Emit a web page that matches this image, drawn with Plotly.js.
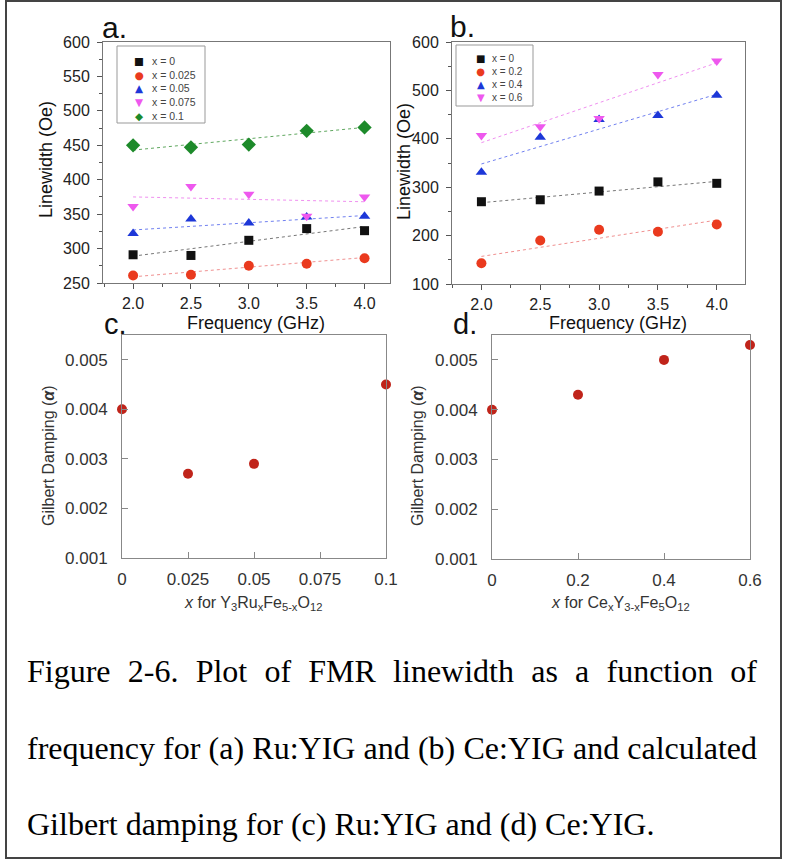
<!DOCTYPE html>
<html>
<head>
<meta charset="utf-8">
<script src="https://cdn.plot.ly/plotly-3.0.1.min.js"></script>
<style>
  html, body { margin:0; padding:0; background:#fff; }
  #wrap { position:relative; width:785px; height:861px; overflow:hidden; }
  #plot { position:absolute; left:0; top:0; width:785px; height:861px; }
  #frame { position:absolute; left:5px; top:0px; width:777px; height:859px; border:2px solid #444; box-sizing:border-box; pointer-events:none; }
  .cap { position:absolute; left:27px; width:730px; font-family:"Liberation Serif","Times New Roman",serif; font-size:32px; line-height:40px; color:#000; }
  .just { text-align:justify; text-align-last:justify; }
</style>
</head>
<body>
<div id="wrap">
  <div id="plot"></div>
  <div id="frame"></div>
  <div class="cap just" style="top:651px;">Figure 2-6. Plot of FMR linewidth as a function of</div>
  <div class="cap just" style="top:728px;">frequency for (a) Ru:YIG and (b) Ce:YIG and calculated</div>
  <div class="cap" style="top:804px;">Gilbert damping for (c) Ru:YIG and (d) Ce:YIG.</div>
</div>
<script>
// ---------- data ----------
const freq = [2.0, 2.5, 3.0, 3.5, 4.0];
const fitFreq = [2.0, 4.0];

// Panel a: Ru:YIG linewidth (Oe)
const aNames = ["x = 0", "x = 0.025", "x = 0.05", "x = 0.075", "x = 0.1"];
const a_x0    = [291, 290, 312, 329, 326];
const a_x025  = [261, 262, 275, 278, 286];
const a_x05   = [322, 343, 337, 346, 347];
const a_x075  = [361, 390, 379, 347, 375];
const a_x1    = [450, 447, 451, 471, 476];
const aFit_x0   = [289, 332];
const aFit_x025 = [259, 287];
const aFit_x05  = [327, 348];
const aFit_x075 = [375, 368];
const aFit_x1   = [443, 476];

// Panel b: Ce:YIG linewidth (Oe)
const bNames = ["x = 0", "x = 0.2", "x = 0.4", "x = 0.6"];
const b_x0 = [270, 274, 292, 311, 308];
const b_x2 = [143, 190, 212, 208, 223];
const b_x4 = [331, 403, 440, 448, 490];
const b_x6 = [407, 425, 442, 533, 561];
const bFit_x0 = [268, 312];
const bFit_x2 = [157, 232];
const bFit_x4 = [348, 492];
const bFit_x6 = [392, 557];

// Panel c: Gilbert damping, Ru:YIG
const ruX = [0, 0.025, 0.05, 0.1];
const ruAlpha = [0.0040, 0.0027, 0.0029, 0.0045];
const ruTicks = [0, 0.025, 0.05, 0.075, 0.1];
const ruTickText = ["0", "0.025", "0.05", "0.075", "0.1"];

// Panel d: Gilbert damping, Ce:YIG
const ceX = [0, 0.2, 0.4, 0.6];
const ceAlpha = [0.0040, 0.0043, 0.0050, 0.0053];
const ceTicks = [0, 0.2, 0.4, 0.6];
const ceTickText = ["0", "0.2", "0.4", "0.6"];

const alphaTicks = [0.001, 0.002, 0.003, 0.004, 0.005];

// ---------- styles ----------
const W = 785, H = 861;
const fx = p => p / W;
const fy = p => 1 - p / H;
const SANS = '"Liberation Sans", Arial, sans-serif';

const cBlack = '#111111', cRed = '#ea3a1e', cBlue = '#1d37d8', cPink = '#ee58ee', cGreen = '#1d8a2a';
const fBlack = '#777777', fRed = '#f09090', fBlue = '#7080f0', fPink = '#f090f0', fGreen = '#60a860';
const dampColor = '#c0241a';

function pts(x, y, name, sym, col, size, xa, ya) {
  return { x: x, y: y, name: name, type: 'scatter', mode: 'markers', xaxis: xa, yaxis: ya,
    marker: { symbol: sym, color: col, size: size, line: { width: 0 } }, showlegend: false, cliponaxis: false };
}
function fit(y, col, xa, ya) {
  return { x: fitFreq, y: y, type: 'scatter', mode: 'lines', xaxis: xa, yaxis: ya, hoverinfo: 'skip',
    line: { color: col, width: 1, dash: 'dot' }, showlegend: false };
}

const traces = [
  fit(aFit_x0, fBlack, 'x', 'y'), fit(aFit_x025, fRed, 'x', 'y'), fit(aFit_x05, fBlue, 'x', 'y'),
  fit(aFit_x075, fPink, 'x', 'y'), fit(aFit_x1, fGreen, 'x', 'y'),
  pts(freq, a_x0, aNames[0], 'square', cBlack, 9, 'x', 'y'),
  pts(freq, a_x025, aNames[1], 'circle', cRed, 10, 'x', 'y'),
  pts(freq, a_x05, aNames[2], 'triangle-up', cBlue, 10, 'x', 'y'),
  pts(freq, a_x075, aNames[3], 'triangle-down', cPink, 10, 'x', 'y'),
  pts(freq, a_x1, aNames[4], 'diamond', cGreen, 11, 'x', 'y'),

  fit(bFit_x0, fBlack, 'x2', 'y2'), fit(bFit_x2, fRed, 'x2', 'y2'),
  fit(bFit_x4, fBlue, 'x2', 'y2'), fit(bFit_x6, fPink, 'x2', 'y2'),
  pts(freq, b_x0, bNames[0], 'square', cBlack, 9, 'x2', 'y2'),
  pts(freq, b_x2, bNames[1], 'circle', cRed, 10, 'x2', 'y2'),
  pts(freq, b_x4, bNames[2], 'triangle-up', cBlue, 10, 'x2', 'y2'),
  pts(freq, b_x6, bNames[3], 'triangle-down', cPink, 10, 'x2', 'y2'),

  pts(ruX, ruAlpha, 'Ru:YIG', 'circle', dampColor, 10, 'x3', 'y3'),
  pts(ceX, ceAlpha, 'Ce:YIG', 'circle', dampColor, 10, 'x4', 'y4')
];

const tickFontAB = { family: SANS, size: 16, color: '#222' };
const tickFontCD = { family: SANS, size: 17, color: '#333' };

function freqAxis(dom, anchor, range) {
  return { domain: dom, anchor: anchor, range: range, dtick: 0.5, tick0: 0, tickformat: '.1f',
    ticks: 'outside', ticklen: 5, tickcolor: '#555', tickwidth: 1,
    minor: { ticks: 'outside', dtick: 0.25, ticklen: 3, tickcolor: '#555' },
    showline: true, linecolor: '#777', linewidth: 1, mirror: true,
    showgrid: false, zeroline: false, tickfont: tickFontAB, ticklabelstandoff: 1 };
}
function lwAxis(dom, anchor, range, dt) {
  return { domain: dom, anchor: anchor, range: range, dtick: dt, tick0: 0,
    ticks: 'outside', ticklen: 5, tickcolor: '#555', tickwidth: 1,
    minor: { ticks: 'outside', dtick: dt / 2, ticklen: 3, tickcolor: '#555' },
    showline: true, linecolor: '#777', linewidth: 1, mirror: true,
    showgrid: false, zeroline: false, tickfont: tickFontAB, ticklabelstandoff: 4 };
}
function xDamp(dom, anchor, range, tv, tt) {
  return { domain: dom, anchor: anchor, range: range, tickvals: tv, ticktext: tt,
    ticks: 'inside', ticklen: 6, tickcolor: '#888', tickwidth: 1,
    showline: true, linecolor: '#888', linewidth: 1, mirror: true,
    showgrid: false, zeroline: false, tickfont: tickFontCD, ticklabelstandoff: 6 };
}
function yDamp(dom, anchor) {
  return { domain: dom, anchor: anchor, range: [0.001, 0.0055], tickvals: alphaTicks, tickformat: '.3f',
    ticks: 'inside', ticklen: 6, tickcolor: '#888', tickwidth: 1,
    showline: true, linecolor: '#888', linewidth: 1, mirror: true,
    showgrid: false, zeroline: false, tickfont: tickFontCD, ticklabelstandoff: 10 };
}

function ann(text, x, y, size, opts) {
  return Object.assign({ text: text, x: fx(x), y: fy(y), xref: 'paper', yref: 'paper', showarrow: false,
    xanchor: 'center', yanchor: 'middle', font: { family: SANS, size: size, color: '#111' } }, opts || {});
}

// legend built as a framed box: symbol column + label column
function legendParts(names, colors, syms, box, symX, textX, top, fsize) {
  const shape = { type: 'rect', xref: 'paper', yref: 'paper',
    x0: fx(box[0]), x1: fx(box[1]), y0: fy(box[3]), y1: fy(box[2]),
    line: { color: '#999', width: 1 }, fillcolor: 'rgba(0,0,0,0)' };
  const labels = ann(names.join('<br>'), textX, top, fsize,
    { xanchor: 'left', yanchor: 'top', align: 'left', font: { family: SANS, size: fsize, color: '#444' } });
  const symbols = ann(syms.map((s, i) => '<span style="color:' + colors[i] + '">' + s + '</span>').join('<br>'),
    symX, top, fsize, { xanchor: 'center', yanchor: 'top', align: 'center',
      font: { family: '"DejaVu Sans", sans-serif', size: fsize, color: '#111' } });
  return { shape: shape, anns: [labels, symbols] };
}
const legA = legendParts(aNames, [cBlack, cRed, cBlue, cPink, cGreen], ['■', '●', '▲', '▼', '◆'],
  [117, 205, 46, 123], 139, 150, 53, 10.5);
const legB = legendParts(bNames, [cBlack, cRed, cBlue, cPink], ['■', '●', '▲', '▼'],
  [456, 533, 45, 106], 480, 490, 51, 10);

const annotations = [
  ann('a.', 100, 28, 30, { xanchor: 'left' }),
  ann('b.', 448, 27, 30, { xanchor: 'left' }),
  ann('c.', 102, 324, 29, { xanchor: 'left' }),
  ann('d.', 451, 324, 29, { xanchor: 'left' }),

  ann('Linewidth (Oe)', 46, 160, 18, { textangle: -90 }),
  ann('Linewidth (Oe)', 404, 162, 18, { textangle: -90 }),
  ann('Frequency (GHz)', 256, 323, 18),
  ann('Frequency (GHz)', 618, 323, 18),

  ann('Gilbert Damping (<b><i>α</i></b>)', 48, 456, 16, { textangle: -90, font: { family: SANS, size: 16, color: '#333' } }),
  ann('Gilbert Damping (<b><i>α</i></b>)', 417, 456, 16, { textangle: -90, font: { family: SANS, size: 16, color: '#333' } }),
  ann('<i>x</i> for Y<sub>3</sub>Ru<sub>x</sub>Fe<sub>5-x</sub>O<sub>12</sub>', 253, 603, 16, { font: { family: SANS, size: 16, color: '#333' } }),
  ann('<i>x</i> for Ce<sub>x</sub>Y<sub>3-x</sub>Fe<sub>5</sub>O<sub>12</sub>', 620, 603, 16, { font: { family: SANS, size: 16, color: '#333' } })
].concat(legA.anns, legB.anns);

const layout = {
  width: W, height: H,
  margin: { l: 0, r: 0, t: 0, b: 0, autoexpand: false },
  paper_bgcolor: '#fff', plot_bgcolor: '#fff',
  showlegend: false,
  font: { family: SANS, color: '#222' },
  xaxis:  freqAxis([fx(103), fx(390)], 'y', [1.74, 4.22]),
  yaxis:  lwAxis([fy(283), fy(42)], 'x', [250, 600], 50),
  xaxis2: freqAxis([fx(452), fx(745)], 'y2', [1.75, 4.24]),
  yaxis2: lwAxis([fy(284), fy(42)], 'x2', [100, 600], 100),
  xaxis3: xDamp([fx(122), fx(386)], 'y3', [0, 0.1], ruTicks, ruTickText),
  yaxis3: yDamp([fy(558), fy(335)], 'x3'),
  xaxis4: xDamp([fx(492), fx(750)], 'y4', [0, 0.6], ceTicks, ceTickText),
  yaxis4: yDamp([fy(559), fy(335)], 'x4'),
  shapes: [legA.shape, legB.shape],
  annotations: annotations
};

Plotly.newPlot('plot', traces, layout, { displayModeBar: false, staticPlot: true });
</script>
</body>
</html>
